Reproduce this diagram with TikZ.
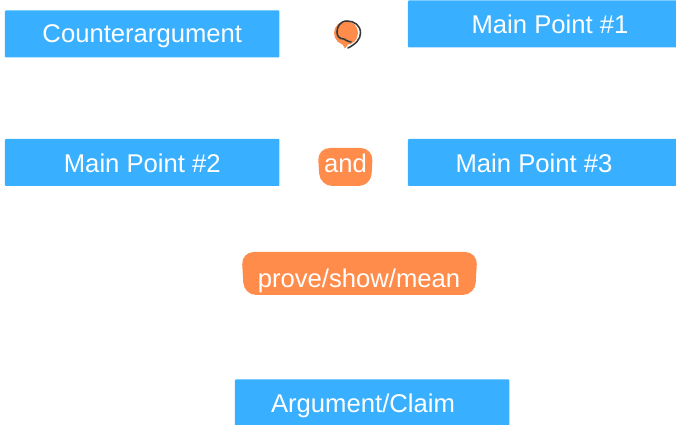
\documentclass[tikz,border=0pt]{standalone}
\usepackage{fontspec}
\setmainfont{Liberation Sans}
\definecolor{pointblue}{HTML}{38B0FF}
\definecolor{linkorange}{HTML}{FF8C4A}
\definecolor{bubbleink}{HTML}{3A3A3A}
\tikzset{
	pointbox/.style={fill=pointblue,rounded corners=0.5pt,minimum width=274.5*0.02cm,minimum height=47*0.02cm,inner sep=0pt},
	boxtext/.style={text=white,font=\fontsize{14.6}{17}\selectfont,inner sep=0pt},
	linkshape/.style={fill=linkorange,rounded corners=7pt}
}
\begin{document}
\begin{tikzpicture}[x=0.02cm,y=-0.02cm]
			\useasboundingbox (0,0) rectangle (676,425);
			\clip (0,0) rectangle (676,425);
			% blue boxes
			\node[pointbox] (counter) at (142.2,34) {};
			\node[pointbox] (one) at (545.2,24) {};
			\node[pointbox] (two) at (142.2,162.5) {};
			\node[pointbox] (three) at (545.2,162.5) {};
			\node[pointbox] (claim) at (372.2,403) {};
			% orange shapes
			\fill[linkorange] (346,33) circle (12);
			\fill[linkorange] (341,42) -- (350,42) -- (345,48.5) -- cycle;
			\draw[bubbleink,line width=0.9pt,line cap=round] (348,48) .. controls (356,44) and (360.5,39) .. (360.5,33) .. controls (360.5,25) and (354,21) .. (347,21) .. controls (340,21) and (337,27) .. (337,32) .. controls (337,36) and (339,39) .. (344,39) (344,39) .. controls (347,41) and (350,42) .. (351,42);
			\fill[linkshape] (317.5,148) -- (373,148) -- (371,186) -- (320,186) -- cycle;
			\fill[linkshape] (241.5,252) -- (477.5,252) -- (475,295) -- (244,295) -- cycle;
			% labels
			\node[boxtext] (countertext) at (142.3,36.5) {Counterargument};
			\node[boxtext] (onetext) at (550,24.5) {Main Point \#1};
			\node[boxtext] (twotext) at (142.3,163.5) {Main Point \#2};
			\node[boxtext] (threetext) at (534,163.5) {Main Point \#3};
			\node[boxtext] (andtext) at (345.5,163) {and};
			\node[boxtext] (meantext) at (359,280.5) {prove/show/mean};
			\node[boxtext] (claimtext) at (363,405.5) {Argument/Claim};
		\end{tikzpicture}
\end{document}
